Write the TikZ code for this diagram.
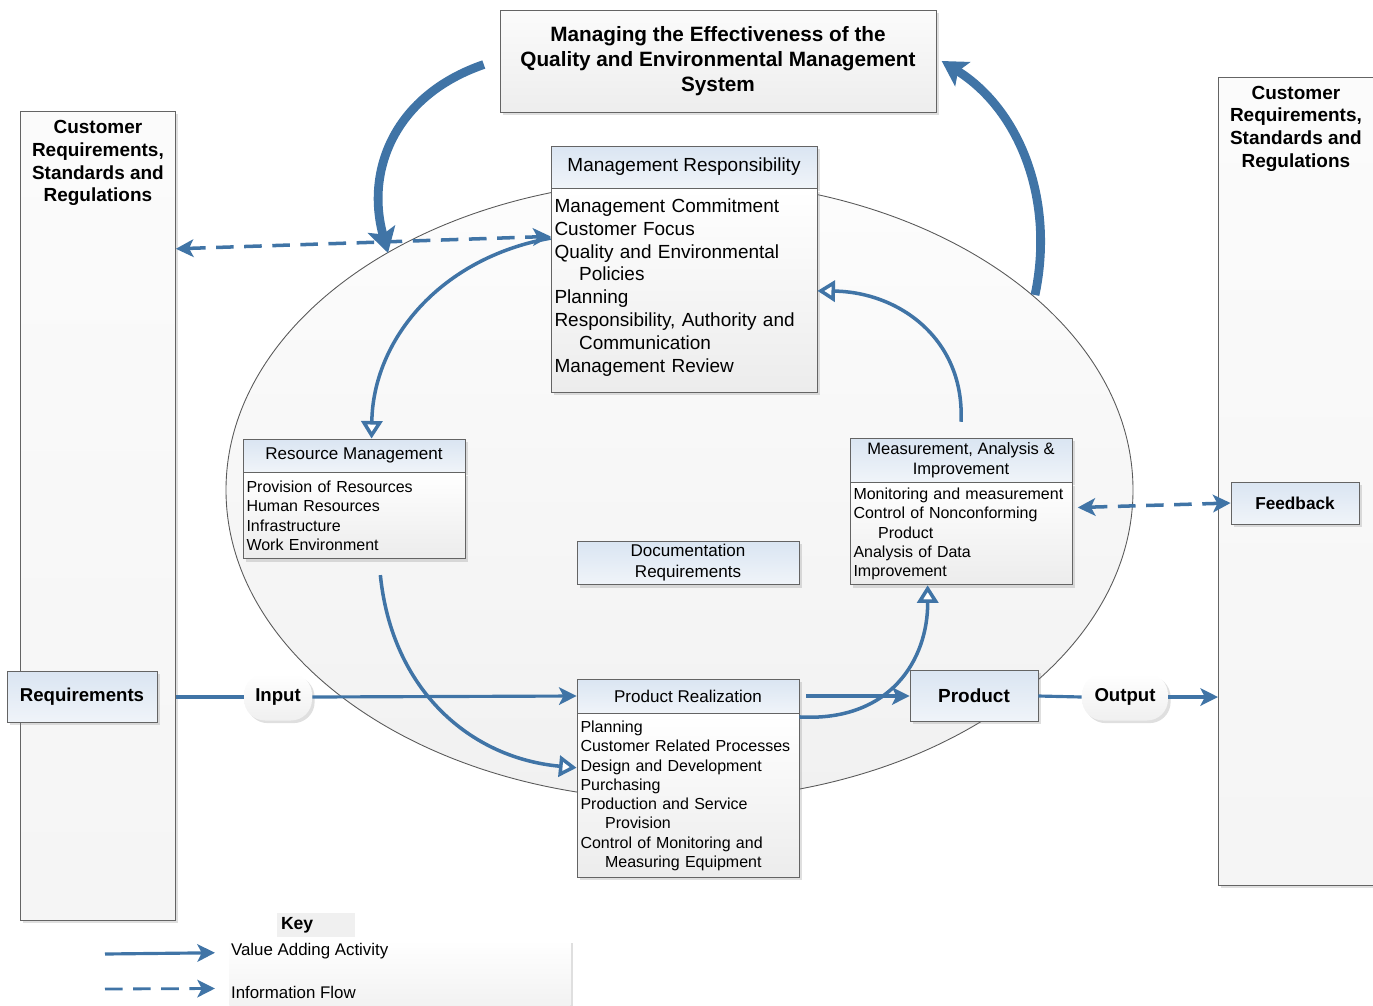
\documentclass[tikz,border=0pt]{standalone}
\usepackage{fontspec}
\setmainfont{Liberation Sans}
\usetikzlibrary{arrows.meta,positioning,shadows}
\definecolor{flowblue}{RGB}{64,116,166}
\definecolor{hdtop}{RGB}{218,229,242}
\definecolor{hdbot}{RGB}{240,244,249}
\definecolor{boxline}{RGB}{100,100,100}
\newcommand{\contline}{\hspace*{14pt}}

\begin{document}
\begin{tikzpicture}[x=0.02cm,y=-0.02cm,
  >={Stealth[length=10pt,width=10pt,inset=2.5pt]},
  boxshadow/.style={drop shadow={opacity=0.25,shadow xshift=1.5pt,shadow yshift=-1.5pt}},
  hdbox/.style={draw=boxline,line width=0.5pt,top color=hdtop,bottom color=hdbot,boxshadow,
    align=center,inner sep=2pt,font=\fontsize{9.7}{11.4}\selectfont},
  bodybox/.style={draw=boxline,line width=0.5pt,top color=white,bottom color=gray!15,boxshadow,
    align=left,inner xsep=2pt,inner ysep=2pt,font=\fontsize{9.1}{11}\selectfont},
  sidebox/.style={draw=boxline,line width=0.5pt,top color=gray!3,bottom color=gray!8,boxshadow,
    minimum width=3.1cm,anchor=north west},
  sidetext/.style={anchor=north,align=center,font=\bfseries\fontsize{10.8}{12.9}\selectfont},
  pill/.style={rounded corners=12pt,top color=white,bottom color=gray!12,boxshadow,
    minimum height=0.94cm,font=\bfseries\fontsize{10.6}{12}\selectfont},
  flow/.style={->,draw=flowblue,line width=1.8pt},
  info/.style={<->,draw=flowblue,line width=2pt,dash pattern=on 10pt off 6pt},
  loopback/.style={draw=flowblue,line width=2pt,-{Triangle[length=10pt,width=12pt,fill=white]}},
  bigloop/.style={draw=flowblue,line width=5pt,-{Stealth[length=14pt,width=16pt,inset=3pt]}}
]
  \useasboundingbox (0,0) rectangle (1373,1005);

  % outer customer boxes
  \node[sidebox,minimum height=16.18cm,
        label={[sidetext,yshift=-2pt]north:Customer\\Requirements,\\Standards and\\Regulations}] (lbox) at (20,111) {};
  \node[sidebox,minimum height=16.16cm,
        label={[sidetext,yshift=-1.5pt]north:Customer\\Requirements,\\Standards and\\Regulations}] (rbox) at (1218,77) {};

  % process loop
  \draw[draw=gray!70!black,line width=0.5pt,top color=gray!2,bottom color=gray!11]
    (679.5,490) ellipse [x radius=453.5,y radius=310];

  \node[draw=boxline,line width=0.5pt,top color=gray!3,bottom color=gray!14,boxshadow,
        minimum width=8.72cm,minimum height=2.04cm,align=center,
        font=\bfseries\fontsize{11.8}{14.2}\selectfont] (title) at (718,61)
    {Managing the Effectiveness of the\\Quality and Environmental Management\\System};

  \node[hdbox,minimum width=5.32cm,minimum height=0.84cm,font=\fontsize{10.8}{13}\selectfont] (mrh) at (684,167) {Management Responsibility};
  \node[bodybox,text width=5.18cm,minimum height=4.08cm,font=\fontsize{10.8}{13}\selectfont] (mrb) [below=0pt of mrh]
    {Management Commitment\\Customer Focus\\Quality and Environmental\\\contline Policies\\Planning\\Responsibility, Authority and\\\contline Communication\\Management Review\\[-6.8pt]\mbox{}};

  \node[hdbox,minimum width=4.44cm,minimum height=0.66cm] (rmh) at (354,455.5) {Resource Management};
  \node[bodybox,text width=4.30cm,minimum height=1.72cm] (rmb) [below=0pt of rmh]
    {Provision of Resources\\Human Resources\\Infrastructure\\Work Environment};

  \node[hdbox,minimum width=4.44cm,minimum height=0.88cm,font=\fontsize{9.4}{11.3}\selectfont] (maih) at (961,460) {Measurement, Analysis \&\\Improvement};
  \node[bodybox,text width=4.30cm,minimum height=2.04cm] (maib) [below=0pt of maih]
    {Monitoring and measurement\\Control of Nonconforming\\\contline Product\\Analysis of Data\\Improvement};

  \node[hdbox,minimum width=4.44cm,minimum height=0.84cm,font=\fontsize{9.7}{11.9}\selectfont] (doc) at (688,563) {Documentation\\Requirements};

  \node[hdbox,minimum width=4.44cm,minimum height=0.68cm] (prh) at (688,696) {Product Realization};
  \node[bodybox,text width=4.30cm,minimum height=3.28cm] (prb) [below=0pt of prh]
    {Planning\\Customer Related Processes\\Design and Development\\Purchasing\\Production and Service\\\contline Provision\\Control of Monitoring and\\\contline Measuring Equipment};

  % input and output
  \node[hdbox,minimum width=3.0cm,minimum height=1.02cm,font=\bfseries\fontsize{10.6}{12}\selectfont] (req) at (82,697) {Requirements};
  \node[pill,minimum width=1.36cm] (inp) at (278,697) {Input};
  \node[hdbox,minimum width=2.56cm,minimum height=1.02cm,font=\bfseries\fontsize{10.8}{12}\selectfont] (prod) at (974,696) {Product};
  \node[pill,minimum width=1.72cm] (out) at (1125,697) {Output};
  \node[hdbox,minimum width=2.56cm,minimum height=0.84cm,font=\bfseries\fontsize{9.8}{12}\selectfont] (fb) at (1295,503) {Feedback};

  \coordinate (mgmtin) at (388,253);
  \coordinate (mgmtout) at (1035,295);

  % information flow
  \draw[info] ([yshift=152pt]lbox.east) -- ([yshift=31pt]mrb.west);
  \draw[info] ([xshift=3pt,yshift=15pt]maib.east) -- (fb.west);

  % value adding flow
  \draw[flow,-] (req.east -| lbox.east) -- (inp.west);
  \draw[flow] (inp.east) -- (prh.west);
  \draw[flow] ([xshift=4pt]prh.east) -- (prod.west);
  \draw[flow,-] (prod.east) -- (out.west);
  \draw[flow] (out.east) -- (out.east -| rbox.west);

  \draw[loopback] ([yshift=30pt]mrb.west) .. controls (440,258) and (373,340) .. ([xshift=10pt]rmh.north);
  \draw[loopback] ([yshift=9pt]maih.north) .. controls (965,340) and (900,292) .. (mrb.east);
  \draw[loopback] ([xshift=15pt,yshift=-9pt]rmb.south) .. controls (392,690) and (470,758) .. ([yshift=16pt]prb.west);
  \draw[loopback] ([yshift=-2pt]prb.north east) .. controls (890,722) and (928,660) .. ([xshift=-19pt]maib.south);

  \draw[bigloop] ([xshift=-9pt,yshift=-2pt]title.west) .. controls (395,95) and (365,170) .. (mgmtin);
  \draw[bigloop] (mgmtout) .. controls (1055,200) and (1020,110) .. ([xshift=3pt]title.east);

  % key
  \node[top color=white,bottom color=gray!10,boxshadow,minimum width=6.82cm,minimum height=1.3cm,anchor=north west] (keybg) at (229,940) {};
  \node[fill=gray!12,text width=1.4cm,minimum height=0.48cm,inner sep=2pt,align=left,
        font=\bfseries\fontsize{10}{12}\selectfont] (key) at (316,925) {Key};
  \node[anchor=west,inner sep=1pt,font=\fontsize{9.6}{11}\selectfont] (vaa) at (229,951) {Value Adding Activity};
  \node[anchor=west,inner sep=1pt,font=\fontsize{9.6}{11}\selectfont] (inf) at (229,992) {Information Flow};
  \coordinate (keya) at (105,954);
  \coordinate (keyb) at (105,989);
  \draw[flow] (keya) -- ([xshift=-8pt,yshift=-1pt]vaa.west);
  \draw[info,->,line width=1.6pt] (keyb) -- ([xshift=-8pt,yshift=2pt]inf.west);
\end{tikzpicture}
\end{document}
